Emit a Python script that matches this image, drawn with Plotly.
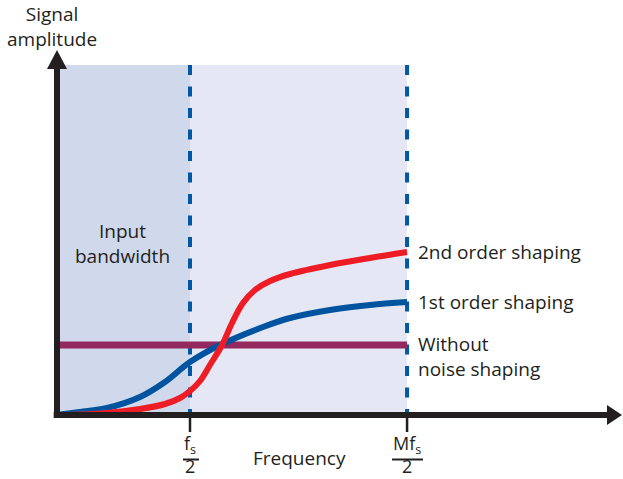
import plotly.graph_objects as go

# Frequency in units of fs/2 (0 = origin), amplitude in arbitrary units
fs_half = 1.0
mfs_half = 2.632
band_top = 3.5

freq_red = [0, 0.173, 0.376, 0.624, 0.812, 0.925, 1.0, 1.075, 1.150, 1.241, 1.316,
            1.398, 1.489, 1.602, 1.752, 2.053, 2.353, 2.632]
amp_red = [0, 0.005, 0.02, 0.06, 0.11, 0.17, 0.24, 0.34, 0.50, 0.70, 0.92,
           1.12, 1.25, 1.34, 1.41, 1.50, 1.57, 1.63]

freq_blue = [0, 0.173, 0.376, 0.624, 0.812, 1.0, 1.226, 1.549, 1.752, 2.053, 2.353, 2.632]
amp_blue = [0, 0.03, 0.07, 0.18, 0.33, 0.53, 0.70, 0.88, 0.97, 1.05, 1.10, 1.13]

freq_flat = [0, 2.632]
amp_flat = [0.70, 0.70]

x_arrow_tip = 4.248
y_arrow_tip = 3.65

TXT = "#231f20"
FONT = "Open Sans"
FS = 19

fig = go.Figure()

fig.add_trace(go.Scatter(x=freq_flat, y=amp_flat, mode="lines",
                         line=dict(color="#93295f", width=7), hoverinfo="skip"))
fig.add_trace(go.Scatter(x=freq_blue, y=amp_blue, mode="lines",
                         line=dict(color="#00539f", width=6, shape="spline", smoothing=1.0),
                         hoverinfo="skip"))
fig.add_trace(go.Scatter(x=freq_red, y=amp_red, mode="lines",
                         line=dict(color="#ee1d25", width=6, shape="spline", smoothing=1.0),
                         hoverinfo="skip"))

shapes = [
    dict(type="rect", xref="x", yref="y", x0=0, x1=fs_half, y0=0, y1=band_top,
         fillcolor="#d0d8eb", line=dict(width=0), layer="below"),
    dict(type="rect", xref="x", yref="y", x0=fs_half, x1=mfs_half, y0=0, y1=band_top,
         fillcolor="#e5e8f4", line=dict(width=0), layer="below"),
    dict(type="line", xref="x", yref="y", x0=fs_half, x1=fs_half, y0=band_top, y1=0,
         line=dict(color="#0057a4", width=4, dash="10px,11.5px"), layer="below"),
    dict(type="line", xref="x", yref="y", x0=mfs_half, x1=mfs_half, y0=band_top, y1=0,
         line=dict(color="#0057a4", width=4, dash="10px,11.5px"), layer="below"),
    # ticks
    dict(type="line", xref="x", yref="y", x0=fs_half, x1=fs_half, y0=0, y1=-0.17,
         line=dict(color=TXT, width=2.5)),
    dict(type="line", xref="x", yref="y", x0=mfs_half, x1=mfs_half, y0=0, y1=-0.17,
         line=dict(color=TXT, width=2.5)),
    # fraction bars
    dict(type="line", xref="x", yref="y", x0=0.947, x1=1.068, y0=-0.445, y1=-0.445,
         line=dict(color=TXT, width=2)),
    dict(type="line", xref="x", yref="y", x0=2.519, x1=2.752, y0=-0.445, y1=-0.445,
         line=dict(color=TXT, width=2)),
    # axes
    dict(type="line", xref="x", yref="y", x0=-0.025, x1=x_arrow_tip - 0.08, y0=0, y1=0,
         line=dict(color=TXT, width=6)),
    dict(type="line", xref="x", yref="y", x0=0, x1=0, y0=-0.03, y1=y_arrow_tip - 0.15,
         line=dict(color=TXT, width=6)),
    # arrowheads (pixel-sized, anchored at the axis tips)
    dict(type="path", xref="x", yref="y", xsizemode="pixel", ysizemode="pixel",
         xanchor=x_arrow_tip, yanchor=0, path="M -15 10 L 0 0 L -15 -10 Z",
         fillcolor=TXT, line=dict(width=0)),
    dict(type="path", xref="x", yref="y", xsizemode="pixel", ysizemode="pixel",
         xanchor=0, yanchor=y_arrow_tip, path="M -10 -19 L 0 0 L 10 -19 Z",
         fillcolor=TXT, line=dict(width=0)),
]

ann = []

def label(x, y, text, anchor="center", size=FS, yanchor="middle", pad=1):
    ann.append(dict(x=x, y=y, xref="x", yref="y", text=text, showarrow=False,
                    xanchor=anchor, yanchor=yanchor, borderpad=pad,
                    align=anchor if anchor != "center" else "center",
                    font=dict(family=FONT, size=size, color=TXT)))

label(-0.038, 3.89, "Signal<br>amplitude")
label(0.49, 1.72, "Input<br>bandwidth")
label(2.70, 1.63, "2nd order shaping", "left")
label(2.70, 1.13, "1st order shaping", "left")
label(2.70, 0.59, "Without<br>noise shaping", "left")
label(1.82, -0.43, "Frequency")
label(fs_half, -0.64, "f<sub>s</sub><br>2", size=18, yanchor="bottom", pad=0)
label(mfs_half, -0.64, "Mf<sub>s</sub><br>2", size=18, yanchor="bottom", pad=0)

fig.update_layout(
    width=623, height=479,
    margin=dict(l=0, r=0, t=0, b=0),
    paper_bgcolor="white", plot_bgcolor="white",
    showlegend=False,
    xaxis=dict(range=[-0.4286, 4.2556], visible=False, fixedrange=True),
    yaxis=dict(range=[-0.64, 4.15], visible=False, fixedrange=True),
    shapes=shapes, annotations=ann,
)

fig.write_html("out.html", config={"displayModeBar": False},
               post_script="document.body.style.margin='0px';")
